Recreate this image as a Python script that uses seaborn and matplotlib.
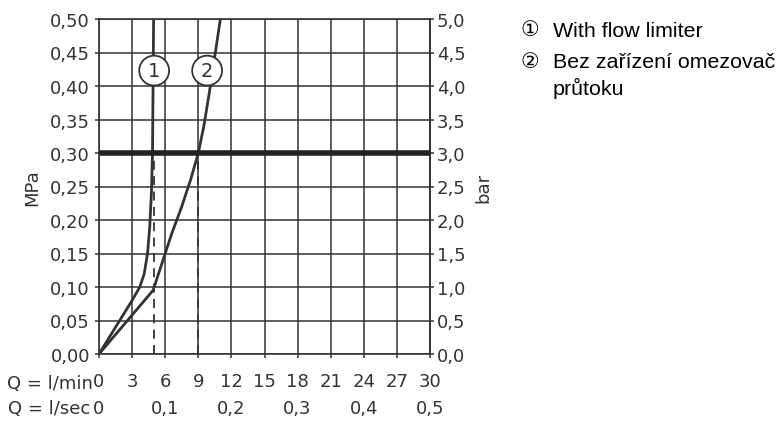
import numpy as np
import pandas as pd
import matplotlib
matplotlib.use("Agg")
import matplotlib.pyplot as plt
import seaborn as sns

# ---- data ----
q_limiter = [0, 1.5, 3.0, 3.7, 4.1, 4.4, 4.6, 4.75, 4.85, 4.9, 4.95]
p_limiter = [0, 0.04, 0.08, 0.10, 0.12, 0.15, 0.19, 0.24, 0.30, 0.40, 0.50]
q_free = [0, 4.9, 5.8, 6.6, 7.5, 8.3, 9.0, 9.5, 10.0, 10.5, 11.0]
p_free = [0, 0.095, 0.14, 0.18, 0.22, 0.26, 0.30, 0.34, 0.39, 0.445, 0.50]
xticks_lmin = [0, 3, 6, 9, 12, 15, 18, 21, 24, 27, 30]
xticks_lsec = [0, 0.1, 0.2, 0.3, 0.4, 0.5]
yticks_mpa = [0.00, 0.05, 0.10, 0.15, 0.20, 0.25, 0.30, 0.35, 0.40, 0.45, 0.50]
yticks_bar = [0.0, 0.5, 1.0, 1.5, 2.0, 2.5, 3.0, 3.5, 4.0, 4.5, 5.0]
ref_pressure = 0.30
ref_flows = [5.0, 9.0]
curve_labels = ["1", "2"]
label_pos_q = [5.0, 9.8]
label_pos_p = 0.423
legend_marks = ["\u2460", "\u2461"]
legend_lines = ["With flow limiter", "Bez zařízení omezovač", "průtoku"]

sns.set_theme(style="white")
plt.rcParams["font.family"] = ["DejaVu Sans"]

dark = "#333333"
fs = 13
fig = plt.figure(figsize=(7.8, 4.31), dpi=100)
ax = fig.add_axes([99 / 780, 1 - 355 / 431, 331 / 780, 335 / 431])

df = pd.concat([
    pd.DataFrame({"Q": q_limiter, "P": p_limiter, "c": "1"}),
    pd.DataFrame({"Q": q_free, "P": p_free, "c": "2"}),
])
for c in curve_labels:
    sub = df[df.c == c]
    sns.lineplot(data=sub, x="Q", y="P", ax=ax, color=dark, lw=2.0,
                 sort=False, estimator=None, zorder=4)

ax.axhline(ref_pressure, color="#222222", lw=4.0, zorder=5)
for qf in ref_flows:
    ax.plot([qf, qf], [0, ref_pressure], color=dark, lw=1.3,
            ls=(0, (5, 3.5)), zorder=3)

for lab, qx in zip(curve_labels, label_pos_q):
    ax.text(qx, label_pos_p, lab, ha="center", va="center", fontsize=14,
            color=dark, zorder=6,
            bbox=dict(boxstyle="circle,pad=0.28", fc="white", ec=dark, lw=1.3))

ax.set_xlim(0, 30)
ax.set_ylim(0, 0.5)
ax.set_xticks(xticks_lmin)
ax.set_xticklabels([str(v) for v in xticks_lmin])
ax.set_yticks(yticks_mpa)
ax.set_yticklabels([f"{v:.2f}".replace(".", ",") for v in yticks_mpa])
ax.grid(True, color=dark, lw=1.1)
ax.set_axisbelow(True)
ax.set_xlabel("")
ax.set_ylabel("MPa", fontsize=fs, color=dark, labelpad=6)
for s in ["left", "right", "bottom", "top"]:
    ax.spines[s].set_visible(True)
    ax.spines[s].set_color(dark)
    ax.spines[s].set_linewidth(1.2)
ax.tick_params(axis="both", colors=dark, labelsize=fs, length=3, width=1.1,
               direction="out", bottom=True, left=True)
ax.tick_params(axis="x", pad=10)

# right axis in bar
ax2 = ax.secondary_yaxis("right", functions=(lambda p: p * 10, lambda b: b / 10))
ax2.set_yticks(yticks_bar)
ax2.set_yticklabels([f"{v:.1f}".replace(".", ",") for v in yticks_bar])
ax2.tick_params(colors=dark, labelsize=fs, length=3, width=1.1, direction="out", pad=2)
ax2.spines["right"].set_color(dark)
ax2.spines["right"].set_linewidth(1.2)
ax2.set_ylabel("bar", fontsize=fs, color=dark, rotation=90, labelpad=6)

# second x row in l/sec
ax3 = ax.secondary_xaxis(-0.125, functions=(lambda q: q / 60, lambda s: s * 60))
ax3.set_xticks(xticks_lsec)
ax3.set_xticklabels(["0"] + [f"{v:.1f}".replace(".", ",") for v in xticks_lsec[1:]])
ax3.tick_params(colors=dark, labelsize=fs, length=0, pad=2)
ax3.spines["bottom"].set_visible(False)

fig.text(93 / 780, 1 - 384 / 431, "Q = l/min", ha="right", va="center",
         fontsize=fs, color=dark)
fig.text(90 / 780, 1 - 409 / 431, "Q = l/sec", ha="right", va="center",
         fontsize=fs, color=dark)

# legend at right
leg_font = ["Liberation Sans", "DejaVu Sans"]
fig.text(530 / 780, 1 - 30 / 431, legend_marks[0], ha="center", va="center",
         fontsize=15, color="black")
fig.text(530 / 780, 1 - 62 / 431, legend_marks[1], ha="center", va="center",
         fontsize=15, color="black")
for line, base in zip(legend_lines, [37, 68, 95]):
    fig.text(553 / 780, 1 - base / 431, line, ha="left", va="baseline",
             fontsize=15.4, color="black", family=leg_font)

fig.savefig("out.png", dpi=100)
